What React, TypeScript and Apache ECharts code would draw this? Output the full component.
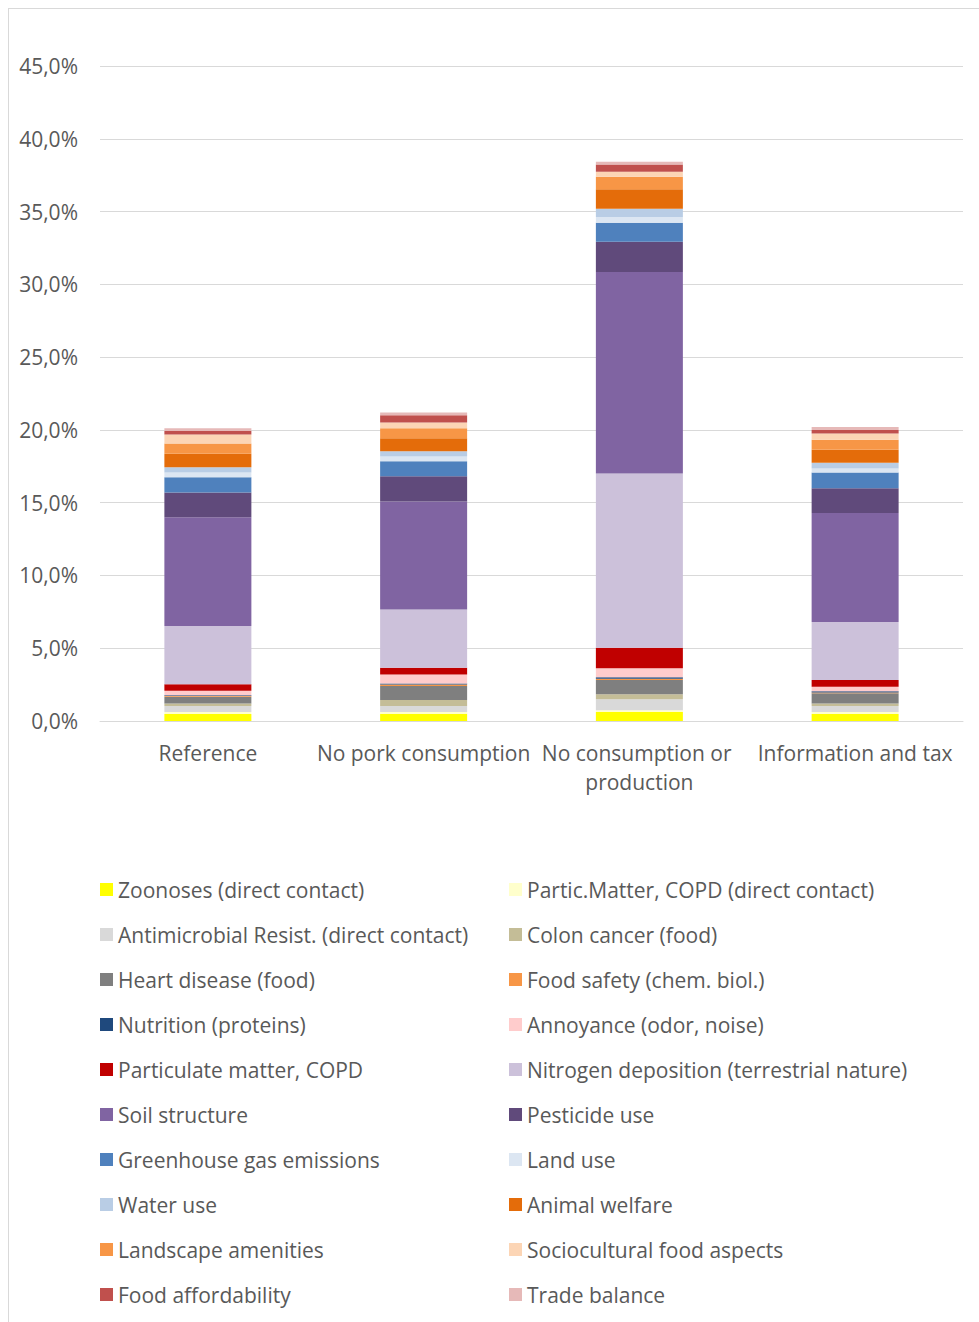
import React, { useEffect, useRef } from "react";
import * as echarts from "echarts";

// Scenario names along the x axis
const scenarios = [
  "Reference",
  "No pork consumption",
  "No consumption or production",
  "Information and tax",
];

// Effect categories, in stacking order (bottom to top)
const effectNames = [
  "Zoonoses (direct contact)",
  "Partic.Matter, COPD (direct contact)",
  "Antimicrobial Resist. (direct contact)",
  "Colon cancer (food)",
  "Heart disease (food)",
  "Food safety (chem. biol.)",
  "Nutrition (proteins)",
  "Annoyance (odor, noise)",
  "Particulate matter, COPD",
  "Nitrogen deposition (terrestrial nature)",
  "Soil structure",
  "Pesticide use",
  "Greenhouse gas emissions",
  "Land use",
  "Water use",
  "Animal welfare",
  "Landscape amenities",
  "Sociocultural food aspects",
  "Food affordability",
  "Trade balance",
];

const effectColors = [
  "#FFFF00",
  "#FFFFCC",
  "#D9D9D9",
  "#C4BD97",
  "#7F7F7F",
  "#F79646",
  "#1F497D",
  "#FFCCCC",
  "#C00000",
  "#CCC1DA",
  "#8064A2",
  "#604A7B",
  "#4F81BD",
  "#DCE6F2",
  "#B9CDE5",
  "#E46C0A",
  "#F79646",
  "#FCD5B5",
  "#C0504D",
  "#E6B9B8",
];

// Share per scenario, in percent
const zoonoses = [0.48, 0.5, 0.62, 0.48];
const particMatterDirect = [0.14, 0.12, 0.12, 0.14];
const antimicrobial = [0.41, 0.41, 0.76, 0.41];
const colonCancer = [0.18, 0.41, 0.34, 0.18];
const heartDisease = [0.46, 0.96, 0.98, 0.69];
const foodSafety = [0.05, 0.1, 0.09, 0.05];
const nutrition = [0.05, 0.08, 0.09, 0.09];
const annoyance = [0.3, 0.62, 0.62, 0.32];
const particulateMatter = [0.46, 0.46, 1.42, 0.46];
const nitrogenDeposition = [4.0, 4.0, 11.97, 3.98];
const soilStructure = [7.47, 7.42, 13.83, 7.49];
const pesticideUse = [1.7, 1.74, 2.08, 1.7];
const greenhouseGas = [1.05, 1.03, 1.31, 1.08];
const landUse = [0.32, 0.32, 0.39, 0.27];
const waterUse = [0.37, 0.37, 0.57, 0.41];
const animalWelfare = [0.92, 0.89, 1.35, 0.89];
const landscapeAmenities = [0.71, 0.69, 0.85, 0.69];
const sociocultural = [0.62, 0.39, 0.34, 0.43];
const foodAffordability = [0.23, 0.5, 0.5, 0.23];
const tradeBalance = [0.2, 0.18, 0.2, 0.21];

const effectValues = [
  zoonoses,
  particMatterDirect,
  antimicrobial,
  colonCancer,
  heartDisease,
  foodSafety,
  nutrition,
  annoyance,
  particulateMatter,
  nitrogenDeposition,
  soilStructure,
  pesticideUse,
  greenhouseGas,
  landUse,
  waterUse,
  animalWelfare,
  landscapeAmenities,
  sociocultural,
  foodAffordability,
  tradeBalance,
];

const FONT = "'Open Sans', 'Noto Sans', sans-serif";
const TEXT_COLOR = "#595959";
const FONT_SIZE = 21;

export default function App() {
  const ref = useRef<HTMLDivElement>(null);

  useEffect(() => {
    if (!ref.current) return;
    const chart = echarts.init(ref.current, undefined, { renderer: "svg" });

    const series = effectNames.map((name, i) => ({
      name,
      type: "bar" as const,
      stack: "total",
      barWidth: 87,
      data: effectValues[i],
      itemStyle: { color: effectColors[i] },
    }));

    const legendText = {
      fontFamily: FONT,
      fontSize: FONT_SIZE,
      color: TEXT_COLOR,
    };

    chart.setOption({
      animation: false,
      color: effectColors,
      grid: { left: 91, top: 57, width: 863, height: 655 },
      xAxis: {
        type: "category",
        data: scenarios,
        axisTick: { show: false },
        axisLine: { lineStyle: { color: "#D9D9D9", width: 1 } },
        axisLabel: {
          interval: 0,
          margin: 17,
          fontFamily: FONT,
          fontSize: FONT_SIZE,
          lineHeight: 29,
          color: TEXT_COLOR,
          width: 214,
          overflow: "break",
        },
      },
      yAxis: {
        type: "value",
        min: 0,
        max: 45,
        interval: 5,
        axisLine: { show: false },
        axisTick: { show: false },
        splitLine: { lineStyle: { color: "#D9D9D9", width: 1 } },
        axisLabel: {
          margin: 22,
          fontFamily: FONT,
          fontSize: FONT_SIZE,
          color: TEXT_COLOR,
          formatter: (v: number) => v.toFixed(1).replace(".", ",") + "%",
        },
      },
      legend: [
        {
          orient: "vertical",
          left: 86,
          top: 865,
          itemWidth: 13,
          itemHeight: 13,
          itemGap: 24,
          icon: "rect",
          textStyle: legendText,
          data: effectNames.filter((_, i) => i % 2 === 0),
        },
        {
          orient: "vertical",
          left: 495,
          top: 865,
          itemWidth: 13,
          itemHeight: 13,
          itemGap: 24,
          icon: "rect",
          textStyle: legendText,
          data: effectNames.filter((_, i) => i % 2 === 1),
        },
      ],
      series,
    });

    return () => chart.dispose();
  }, []);

  return (
    <div
      style={{
        position: "absolute",
        left: 8,
        top: 8,
        width: 971,
        height: 1314,
        borderLeft: "1px solid #D9D9D9",
        borderTop: "1px solid #D9D9D9",
        overflow: "hidden",
        background: "#FFFFFF",
      }}
    >
      <div ref={ref} style={{ width: 970, height: 1313 }} />
    </div>
  );
}
